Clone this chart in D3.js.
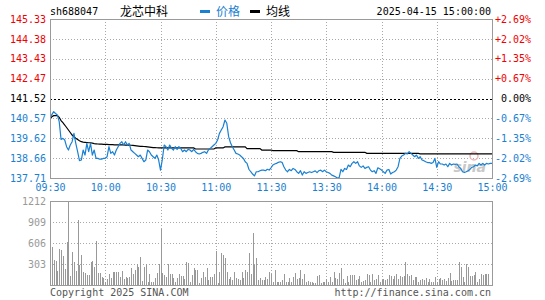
<!DOCTYPE html>
<html>
<head>
<meta charset="utf-8">
<script src="https://cdn.jsdelivr.net/npm/d3@7/dist/d3.min.js"></script>
<style>
    html, body { margin: 0; padding: 0; background: #fff; }
    svg { display: block; }
    text { font-family: 'DejaVu Sans Mono', 'Liberation Mono', monospace; font-size: 10px; }
    .cjk { font-family: 'Noto Sans CJK SC', sans-serif; font-size: 12px; }
</style>
</head>
<body>
<div id="chart"></div>
<script>
// 龙芯中科 sh688047 分时图 2025-04-15

const symbol = 'sh688047';
const stockName = '龙芯中科';
const stamp = '2025-04-15 15:00:00';
const preClose = 141.52;

const priceTicks = [145.33, 144.38, 143.43, 142.47, 141.52, 140.57, 139.62, 138.66, 137.71];
const pctTicks = ['+2.69%', '+2.02%', '+1.35%', '+0.67%', '0.00%', '-0.67%', '-1.35%', '-2.02%', '-2.69%'];
const timeTickMinutes = [0, 30, 60, 90, 120, 150, 180, 210, 240];
const timeTickLabels = ['09:30', '10:00', '10:30', '11:00', '11:30', '13:30', '14:00', '14:30', '15:00'];
const volumeTicks = [1212, 909, 606, 303];

// one value per trading minute, 09:30 .. 11:30 | 13:01 .. 15:00
const prices = [
    140.57, 140.75, 140.89, 140.80, 140.73, 140.41, 139.56, 139.61, 139.53, 139.21,
    139.05, 139.29, 139.45, 139.85, 139.37, 138.97, 138.54, 138.57, 139.05, 138.81,
    139.37, 138.97, 139.37, 138.81, 139.05, 138.65, 138.65, 138.61, 138.61, 138.65,
    138.65, 138.73, 139.21, 138.89, 138.97, 138.81, 139.05, 139.21, 139.37, 139.45,
    139.29, 139.45, 139.29, 139.37, 139.05, 138.97, 138.89, 138.81, 138.73, 138.81,
    138.65, 138.49, 138.57, 139.05, 138.97, 138.81, 138.73, 138.65, 138.81, 138.57,
    138.09, 138.60, 139.29, 139.21, 139.05, 139.29, 139.13, 139.05, 139.21, 139.08,
    139.21, 139.13, 138.97, 139.05, 138.97, 139.08, 139.05, 138.97, 139.08, 138.97,
    138.89, 138.86, 138.89, 138.94, 138.97, 138.89, 139.05, 139.13, 139.21, 139.29,
    139.37, 139.53, 139.85, 140.01, 140.17, 140.49, 140.33, 139.69, 139.40, 139.21,
    139.05, 138.89, 138.86, 138.81, 138.73, 138.65, 138.49, 138.41, 138.13, 138.01,
    137.90, 137.81, 138.01, 138.01, 138.06, 138.09, 138.09, 138.06, 138.13, 138.09,
    138.20, 138.33, 138.38, 138.41, 138.46, 138.49, 138.46, 138.25, 138.09, 138.01,
    138.12, 138.06, 138.17, 138.12, 138.01, 137.93, 138.06, 137.85, 138.01, 137.93,
    137.97, 138.01, 137.97, 138.01, 138.05, 137.97, 138.06, 138.09, 138.01, 138.09,
    138.01, 137.97, 137.93, 137.85, 137.81, 137.77, 137.71, 137.73, 138.12, 138.01,
    138.17, 138.12, 138.33, 138.25, 138.41, 138.49, 138.41, 138.49, 138.29, 138.22,
    138.29, 138.17, 138.22, 138.25, 138.09, 138.01, 138.06, 137.93, 138.20, 138.15,
    138.09, 138.01, 137.93, 138.09, 138.12, 137.90, 137.97, 138.01, 138.09, 138.25,
    138.65, 138.76, 138.81, 138.89, 138.86, 138.97, 138.89, 138.81, 138.73, 138.81,
    138.65, 138.73, 138.57, 138.54, 138.49, 138.45, 138.45, 138.41, 138.45, 138.65,
    138.22, 138.49, 138.38, 138.38, 138.33, 138.38, 138.25, 138.41, 138.33, 138.38,
    138.36, 138.38, 138.25, 138.17, 138.01, 137.97, 138.01, 138.06, 138.12, 138.22,
    138.25, 138.33, 138.29, 138.41, 138.33, 138.41, 138.33, 138.41, 138.38, 138.41,
    138.41
];

const averages = [
    140.52, 140.65, 140.70, 140.70, 140.70, 140.62, 140.46, 140.36, 140.25, 140.13,
    140.01, 139.89, 139.77, 139.69, 139.62, 139.56, 139.50, 139.45, 139.43, 139.42,
    139.41, 139.40, 139.40, 139.38, 139.36, 139.35, 139.34, 139.33, 139.33, 139.32,
    139.32, 139.32, 139.31, 139.31, 139.31, 139.30, 139.30, 139.30, 139.30, 139.30,
    139.30, 139.29, 139.29, 139.29, 139.28, 139.27, 139.26, 139.25, 139.24, 139.23,
    139.23, 139.22, 139.21, 139.20, 139.19, 139.18, 139.17, 139.17, 139.16, 139.15,
    139.15, 139.15, 139.15, 139.15, 139.15, 139.15, 139.15, 139.15, 139.15, 139.15,
    139.15, 139.15, 139.15, 139.15, 139.15, 139.15, 139.15, 139.15, 139.15, 139.10,
    139.10, 139.10, 139.10, 139.10, 139.10, 139.10, 139.10, 139.10, 139.10, 139.10,
    139.15, 139.15, 139.15, 139.15, 139.15, 139.20, 139.20, 139.20, 139.20, 139.20,
    139.20, 139.20, 139.20, 139.20, 139.20, 139.20, 139.20, 139.12, 139.12, 139.12,
    139.12, 139.12, 139.12, 139.12, 139.12, 139.05, 139.05, 139.05, 139.05, 139.05,
    139.05, 139.02, 139.02, 139.02, 139.02, 139.02, 139.02, 139.02, 139.02, 139.02,
    139.02, 139.02, 139.02, 139.02, 139.02, 138.97, 138.97, 138.97, 138.97, 138.97,
    138.97, 138.97, 138.97, 138.97, 138.97, 138.97, 138.97, 138.97, 138.97, 138.97,
    138.97, 138.97, 138.97, 138.97, 138.94, 138.94, 138.94, 138.94, 138.94, 138.94,
    138.94, 138.94, 138.94, 138.94, 138.94, 138.94, 138.94, 138.94, 138.94, 138.94,
    138.94, 138.94, 138.89, 138.89, 138.89, 138.89, 138.89, 138.89, 138.89, 138.89,
    138.89, 138.89, 138.89, 138.89, 138.89, 138.89, 138.89, 138.89, 138.89, 138.89,
    138.89, 138.89, 138.89, 138.89, 138.89, 138.89, 138.89, 138.89, 138.89, 138.89,
    138.89, 138.87, 138.87, 138.87, 138.87, 138.87, 138.87, 138.87, 138.87, 138.87,
    138.87, 138.87, 138.87, 138.87, 138.87, 138.87, 138.87, 138.87, 138.87, 138.87,
    138.87, 138.87, 138.87, 138.87, 138.87, 138.87, 138.87, 138.87, 138.87, 138.87,
    138.87, 138.87, 138.87, 138.87, 138.87, 138.87, 138.87, 138.87, 138.87, 138.87,
    138.87
];

// 成交量（手）
const volumes = [
    48, 553, 361, 346, 202, 519, 505, 418, 231, 616,
    1212, 130, 481, 327, 202, 938, 289, 433, 192, 168,
    144, 144, 327, 346, 265, 635, 178, 178, 120, 106,
    48, 82, 159, 106, 183, 183, 192, 183, 120, 202,
    82, 120, 96, 120, 240, 154, 212, 298, 260, 409,
    58, 265, 298, 48, 154, 48, 48, 106, 168, 298,
    808, 168, 144, 120, 298, 154, 154, 96, 48, 96,
    154, 135, 135, 87, 327, 313, 48, 144, 250, 216,
    216, 24, 106, 192, 120, 250, 72, 120, 120, 154,
    491, 24, 192, 457, 433, 394, 183, 87, 120, 72,
    183, 106, 87, 72, 183, 96, 216, 183, 457, 154,
    746, 289, 394, 72, 96, 72, 72, 120, 87, 183,
    160, 40, 216, 38, 38, 38, 72, 154, 38, 48,
    106, 48, 120, 178, 82, 96, 216, 82, 154, 38,
    58, 38, 48, 34, 34, 135, 144, 24, 38, 38,
    87, 38, 111, 48, 183, 96, 87, 168, 250, 87,
    34, 135, 48, 144, 144, 144, 72, 87, 135, 48,
    58, 72, 154, 144, 38, 154, 72, 87, 144, 48,
    72, 87, 72, 87, 144, 135, 87, 135, 154, 87,
    135, 120, 135, 327, 154, 135, 144, 72, 120, 120,
    48, 72, 87, 72, 96, 48, 87, 48, 38, 120,
    48, 87, 96, 72, 87, 58, 96, 168, 58, 72,
    72, 72, 327, 265, 120, 48, 298, 265, 135, 135,
    144, 192, 48, 87, 154, 144, 154, 154, 154, 0,
    0
];

const COLORS = {
    up: '#f00000',
    down: '#1a80d2',
    flat: '#000',
    price: '#1a80d2',
    average: '#000',
    grid: '#a8a8a8',
    frame: '#9a9a9a',
    volume: '#999',
    volumeText: '#999',
    footer: '#555'
};

const width = 545;
const height = 300;
const pricePanel = { left: 50, right: 492, top: 19, bottom: 178 };
const volumePanel = { left: 50, right: 492, top: 201, bottom: 285 };

const svg = d3.select('#chart')
    .append('svg')
    .attr('width', width)
    .attr('height', height);

const x = d3.scaleLinear().domain([0, 240]).range([pricePanel.left, pricePanel.right]);
const yPrice = d3.scaleLinear()
    .domain([priceTicks[priceTicks.length - 1], priceTicks[0]])
    .range([pricePanel.bottom, pricePanel.top]);
const yVolume = d3.scaleLinear()
    .domain([0, volumeTicks[0]])
    .range([volumePanel.bottom, volumePanel.top]);

const crisp = (v) => Math.round(v) + 0.5;

function priceColor(value) {
    if (value > preClose) return COLORS.up;
    if (value < preClose) return COLORS.down;
    return COLORS.flat;
}

function drawGrid(panel, yValues, yScale) {
    const g = svg.append('g').attr('shape-rendering', 'crispEdges');

    g.selectAll('line.h')
        .data(yValues)
        .enter()
        .append('line')
        .attr('x1', panel.left)
        .attr('x2', panel.right)
        .attr('y1', (d) => crisp(yScale(d)))
        .attr('y2', (d) => crisp(yScale(d)))
        .attr('stroke', COLORS.grid)
        .attr('stroke-dasharray', '1,2');

    g.selectAll('line.v')
        .data(timeTickMinutes.slice(1, -1))
        .enter()
        .append('line')
        .attr('x1', (d) => crisp(x(d)))
        .attr('x2', (d) => crisp(x(d)))
        .attr('y1', panel.top)
        .attr('y2', panel.bottom)
        .attr('stroke', COLORS.grid)
        .attr('stroke-dasharray', '1,2');
}

function drawFrame(panel) {
    svg.append('rect')
        .attr('x', panel.left + 0.5)
        .attr('y', panel.top + 0.5)
        .attr('width', panel.right - panel.left)
        .attr('height', panel.bottom - panel.top)
        .attr('fill', 'none')
        .attr('stroke', COLORS.frame)
        .attr('shape-rendering', 'crispEdges');
}

// ---- price panel ----
drawGrid(pricePanel, priceTicks.filter((d, i) => i > 0 && i < priceTicks.length - 1 && d !== preClose), yPrice);

svg.append('line')
    .attr('x1', pricePanel.left)
    .attr('x2', pricePanel.right)
    .attr('y1', crisp(yPrice(preClose)))
    .attr('y2', crisp(yPrice(preClose)))
    .attr('stroke', '#000')
    .attr('stroke-dasharray', '2,2')
    .attr('shape-rendering', 'crispEdges');

// faint sina watermark
svg.append('text')
    .attr('x', 486)
    .attr('y', 172)
    .attr('text-anchor', 'end')
    .style('font-family', 'DejaVu Sans, sans-serif')
    .style('font-size', '14px')
    .style('font-weight', 'bold')
    .style('font-style', 'italic')
    .attr('fill', '#c8c8c8')
    .text('sina');
svg.append('circle')
    .attr('cx', 474)
    .attr('cy', 156)
    .attr('r', 4)
    .attr('fill', 'none')
    .attr('stroke', '#f0b8b8')
    .attr('stroke-width', 1.5);

svg.append('defs')
    .append('clipPath')
    .attr('id', 'price-clip')
    .append('rect')
    .attr('x', pricePanel.left)
    .attr('y', pricePanel.top)
    .attr('width', pricePanel.right - pricePanel.left)
    .attr('height', pricePanel.bottom - pricePanel.top + 1);

const line = d3.line()
    .x((d, i) => x(i))
    .y((d) => yPrice(d));

svg.append('path')
    .datum(averages)
    .attr('clip-path', 'url(#price-clip)')
    .attr('d', line)
    .attr('fill', 'none')
    .attr('stroke', COLORS.average)
    .attr('stroke-width', 1.2);

svg.append('path')
    .datum(prices)
    .attr('clip-path', 'url(#price-clip)')
    .attr('d', line)
    .attr('fill', 'none')
    .attr('stroke', COLORS.price)
    .attr('stroke-width', 1.2)
    .attr('stroke-linejoin', 'round');

drawFrame(pricePanel);

// left price labels
const leftAxis = svg.append('g')
    .attr('transform', `translate(${pricePanel.left},0)`)
    .call(d3.axisLeft(yPrice).tickValues(priceTicks).tickSize(0).tickPadding(4).tickFormat(d3.format('.2f')));
leftAxis.select('.domain').remove();
leftAxis.selectAll('text')
    .attr('font-family', null)
    .attr('font-size', null)
    .attr('fill', (d) => priceColor(d));

// right percent labels
const rightAxis = svg.append('g')
    .attr('transform', `translate(${width - 14},0)`)
    .call(d3.axisRight(yPrice).tickValues(priceTicks).tickSize(0).tickPadding(0).tickFormat((d, i) => pctTicks[i]));
rightAxis.select('.domain').remove();
rightAxis.selectAll('text')
    .attr('font-family', null)
    .attr('font-size', null)
    .attr('text-anchor', 'end')
    .attr('fill', (d) => priceColor(d));

// time labels
const timeAxis = svg.append('g')
    .attr('transform', `translate(0,${pricePanel.bottom + 4})`)
    .call(d3.axisBottom(x).tickValues(timeTickMinutes).tickSize(0).tickPadding(2).tickFormat((d, i) => timeTickLabels[i]));
timeAxis.select('.domain').remove();
timeAxis.selectAll('text')
    .attr('font-family', null)
    .attr('font-size', null)
    .attr('fill', COLORS.down);

// ---- header ----
svg.append('text').attr('x', 50).attr('y', 15).attr('fill', '#000').text(symbol);
svg.append('text').attr('class', 'cjk').attr('x', 120).attr('y', 16).attr('fill', '#000').text(stockName);

const legend = [
    { label: '价格', color: COLORS.price, x: 200 },
    { label: '均线', color: COLORS.average, x: 250 }
];
const legendItem = svg.selectAll('g.legend')
    .data(legend)
    .enter()
    .append('g')
    .attr('class', 'legend')
    .attr('transform', (d) => `translate(${d.x},0)`);
legendItem.append('rect')
    .attr('x', 0)
    .attr('y', 10)
    .attr('width', 10)
    .attr('height', 3)
    .attr('fill', (d) => d.color);
legendItem.append('text')
    .attr('class', 'cjk')
    .attr('x', 16)
    .attr('y', 16)
    .attr('fill', (d) => d.color)
    .text((d) => d.label);

svg.append('text').attr('x', 491).attr('y', 15).attr('text-anchor', 'end').attr('fill', '#000').text(stamp);

// ---- volume panel ----
drawGrid(volumePanel, volumeTicks.slice(1), yVolume);

svg.append('g')
    .attr('shape-rendering', 'crispEdges')
    .selectAll('rect')
    .data(volumes)
    .enter()
    .append('rect')
    .attr('x', (d, i) => Math.round(x(i)))
    .attr('y', (d) => yVolume(d))
    .attr('width', 1)
    .attr('height', (d) => volumePanel.bottom - yVolume(d))
    .attr('fill', COLORS.volume);

drawFrame(volumePanel);

const volumeAxis = svg.append('g')
    .attr('transform', `translate(${volumePanel.left},0)`)
    .call(d3.axisLeft(yVolume).tickValues(volumeTicks).tickSize(0).tickPadding(4).tickFormat(d3.format('d')));
volumeAxis.select('.domain').remove();
volumeAxis.selectAll('text')
    .attr('font-family', null)
    .attr('font-size', null)
    .attr('fill', COLORS.volumeText);

// ---- footer ----
svg.append('text').attr('x', 50).attr('y', 296).attr('fill', COLORS.footer).text('Copyright 2025 SINA.COM');
svg.append('text').attr('x', 491).attr('y', 296).attr('text-anchor', 'end').attr('fill', COLORS.footer).text('http://finance.sina.com.cn');
</script>
</body>
</html>
